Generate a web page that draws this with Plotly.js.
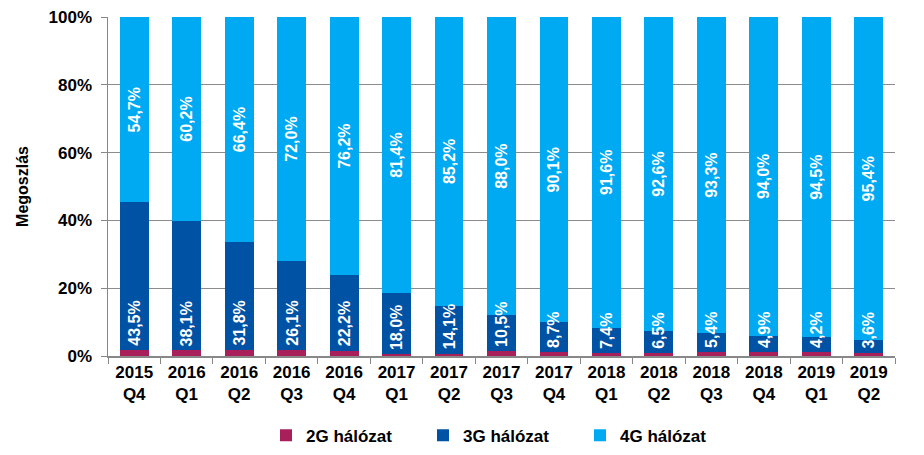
<!DOCTYPE html>
<html>
<head>
<meta charset="utf-8">
<script src="https://cdn.plot.ly/plotly-3.0.1.min.js"></script>
<style>html,body{margin:0;padding:0;background:#fff;}#chart{width:924px;height:455px;}</style>
</head>
<body>
<div id="chart"></div>
<script>
const categories = ["2015<br>Q4","2016<br>Q1","2016<br>Q2","2016<br>Q3","2016<br>Q4","2017<br>Q1","2017<br>Q2","2017<br>Q3","2017<br>Q4","2018<br>Q1","2018<br>Q2","2018<br>Q3","2018<br>Q4","2019<br>Q1","2019<br>Q2"];
const g2 = [1.8,1.7,1.8,1.9,1.6,0.6,0.7,1.5,1.2,1.0,0.9,1.3,1.1,1.3,1.0];
const g3 = [43.5,38.1,31.8,26.1,22.2,18.0,14.1,10.5,8.7,7.4,6.5,5.4,4.9,4.2,3.6];
const g4 = [54.7,60.2,66.4,72.0,76.2,81.4,85.2,88.0,90.1,91.6,92.6,93.3,94.0,94.5,95.4];
const seriesNames = ["2G hálózat","3G hálózat","4G hálózat"];
const colors = ["#A81F5A","#0052A5","#00AAF2"];

const FONT = "Liberation Sans, Arial, sans-serif";
const labelFont = {family: FONT, size: 16, color: "#ffffff", weight: "bold"};
const fmt = v => v.toFixed(1).replace(".", ",") + "%";

const traces = [
  {type:"bar", name:seriesNames[0], x:categories, y:g2, marker:{color:colors[0]}, hoverinfo:"none", textposition:"none"},
  {type:"bar", name:seriesNames[1], x:categories, y:g3, marker:{color:colors[1]}, textposition:"none"},
  {type:"bar", name:seriesNames[2], x:categories, y:g4, marker:{color:colors[2]},
   texttemplate:"%{y:.1f}%", textposition:"inside", insidetextanchor:"middle", textangle:-90,
   constraintext:"none", insidetextfont:labelFont}
];

// 3G labels drawn above all bars so they can overflow into the 4G segment
const annotations = categories.map((c, i) => ({
  x: c, y: g2[i], xref: "x", yref: "y",
  text: fmt(g3[i]), textangle: -90, showarrow: false,
  xanchor: "center", yanchor: "bottom", yshift: 2,
  font: labelFont
}));

const layout = {
  width:924, height:455,
  margin:{l:108, r:29, t:17, b:99, autoexpand:false},
  barmode:"stack", bargap:0.45,
  separators:",.",
  paper_bgcolor:"#fff", plot_bgcolor:"#fff",
  font:{family:FONT, size:17, color:"#000"},
  showlegend:true,
  annotations: annotations,
  legend:{orientation:"h", x:0.5, xanchor:"center", y:-0.235, yanchor:"middle",
          font:{family:FONT, size:17, color:"#000", weight:"bold"}, traceorder:"normal",
          itemwidth:30, entrywidth:112, entrywidthmode:"pixels"},
  xaxis:{type:"category", showline:true, linecolor:"#888", linewidth:1.5,
         ticks:"outside", tickson:"boundaries", ticklen:6, tickcolor:"#888",
         tickfont:{family:FONT, size:17, color:"#000", weight:"bold"}, showgrid:false},
  yaxis:{range:[0,100], dtick:20, ticksuffix:"%", showline:true, linecolor:"#888", linewidth:1.5,
         ticks:"outside", ticklen:6, tickcolor:"#888", ticklabelstandoff:5,
         showgrid:true, gridcolor:"#8c8c8c", gridwidth:1.2,
         tickfont:{family:FONT, size:17, color:"#000", weight:"bold"},
         title:{text:"Megoszlás", font:{family:FONT, size:16, color:"#000", weight:"bold"}, standoff:16},
         zeroline:false}
};

Plotly.newPlot("chart", traces, layout, {displayModeBar:false, staticPlot:true});
</script>
</body>
</html>
